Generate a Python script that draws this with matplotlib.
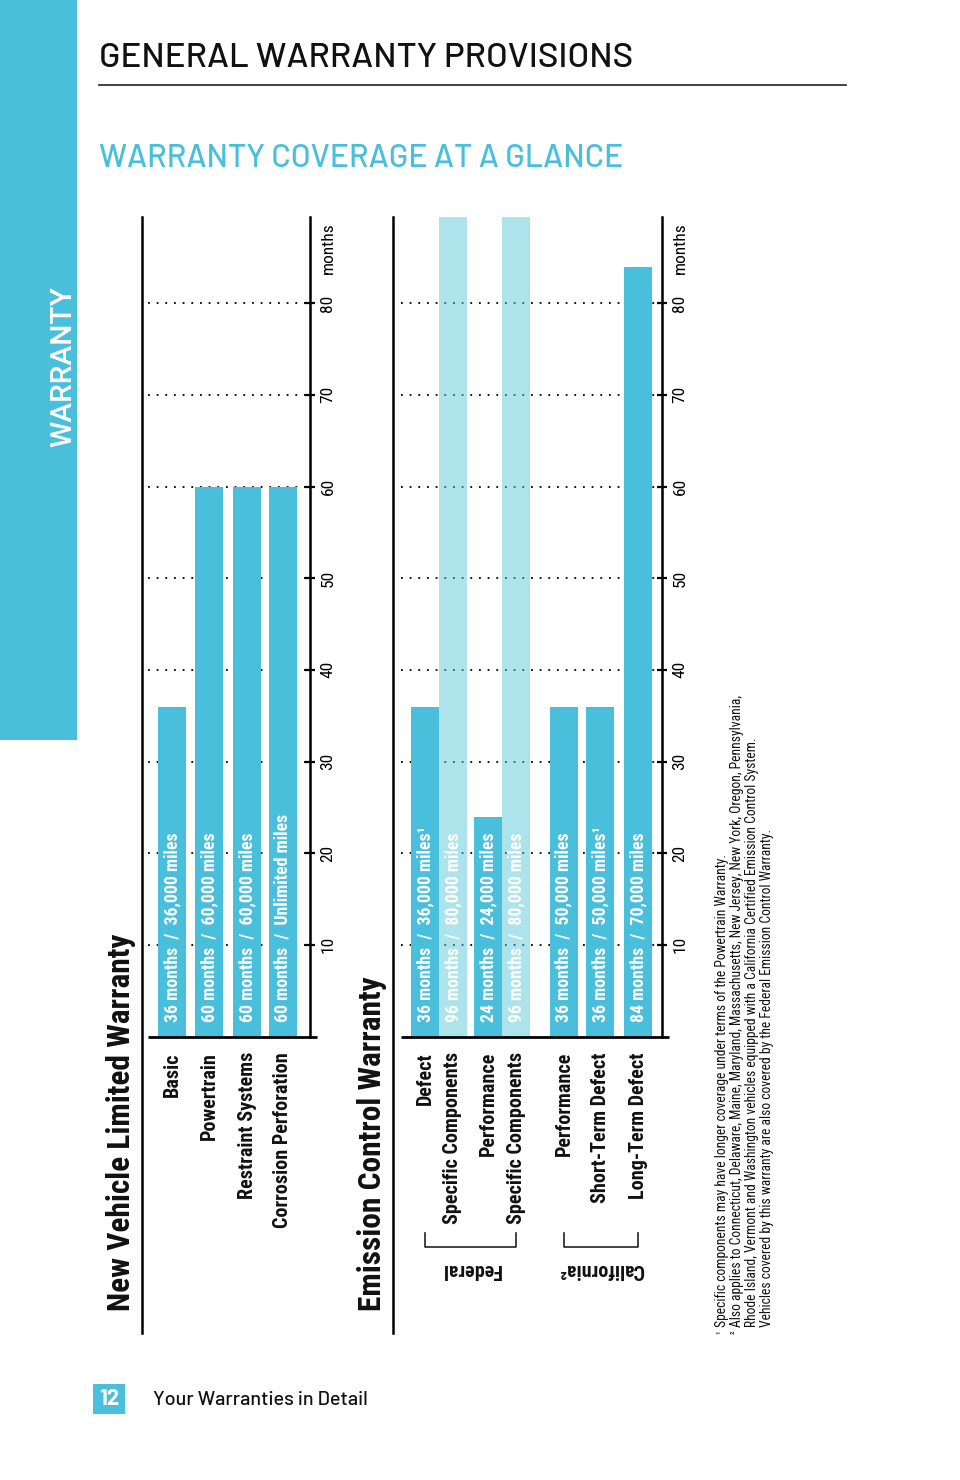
import matplotlib
matplotlib.use('Agg')
import matplotlib.pyplot as plt
from matplotlib.lines import Line2D
from matplotlib.patches import Rectangle
import matplotlib.transforms as mtransforms

W, H = 960, 1480
BLUE = '#49BFDC'
LIGHT = '#5CCAD9'
COND = ['Roboto Condensed', 'DejaVu Sans']
DIN = ['Barlow', 'DejaVu Sans']

# data
nv_labels = ['Basic', 'Powertrain', 'Restraint Systems', 'Corrosion Perforation']
nv_months = [36, 60, 60, 60]
nv_text = ['36 months  /  36,000 miles', '60 months  /  60,000 miles',
           '60 months  /  60,000 miles', '60 months  /  Unlimited miles']

ec_labels = ['Defect', 'Specific Components', 'Performance', 'Specific Components',
             'Performance', 'Short-Term Defect', 'Long-Term Defect']
ec_months = [36, 96, 24, 96, 36, 36, 84]
ec_text = ['36 months  /  36,000 miles¹', '96 months  /  80,000 miles',
           '24 months  /  24,000 miles', '96 months  /  80,000 miles',
           '36 months  /  50,000 miles', '36 months  /  50,000 miles¹',
           '84 months  /  70,000 miles']
ec_light = [False, True, False, True, False, False, False]
groups = [('Federal', 0, 3), ('California²', 4, 6)]

month_ticks = [10, 20, 30, 40, 50, 60, 70, 80]

notes = [('¹', 'Specific components may have longer coverage under terms of the Powertrain Warranty.'),
         ('²', 'Also applies to Connecticut, Delaware, Maine, Maryland, Massachusetts, New Jersey, New York, Oregon, Pennsylvania,'),
         ('', 'Rhode Island, Vermont and Washington vehicles equipped with a California Certified Emission Control System.'),
         ('', 'Vehicles covered by this warranty are also covered by the Federal Emission Control Warranty.')]

# layout (bar slots in bar widths)
nv_slots = [0, 1.32, 2.68, 3.96]
ec_slots = [0, 1, 2.25, 3.25, 4.96, 6.25, 7.61]

fig = plt.figure(figsize=(W / 100, H / 100), dpi=100)


def fx(x):
    return x / W


def fy(y):
    return 1 - y / H


# side band and page header
fig.add_artist(Rectangle((0, fy(740)), fx(77), 740 / H, transform=fig.transFigure,
                         color=BLUE, lw=0))
fig.text(fx(63), fy(367), 'WARRANTY', rotation=90, color='white', fontsize=21.5,
         family=['Roboto', 'DejaVu Sans'], fontweight=500,
         ha='center', va='center')
fig.text(fx(99), fy(67), 'GENERAL WARRANTY PROVISIONS', fontsize=25.1, family=DIN,
         fontweight=500, ha='left', va='baseline', color='#111111')
fig.add_artist(Line2D([fx(99), fx(846)], [fy(85), fy(85)], color='#333333', lw=1.3))
fig.text(fx(99), fy(167), 'WARRANTY COVERAGE AT A GLANCE', fontsize=23, family=DIN,
         fontweight=500, ha='left', va='baseline', color=BLUE)

# footer
fig.add_artist(Rectangle((fx(93), fy(1414)), fx(32), 30 / H, transform=fig.transFigure,
                         color=BLUE, lw=0))
fig.text(fx(109), fy(1399), '12', color='white', fontsize=16, fontweight='bold',
         family=DIN, ha='center', va='center')
fig.text(fx(153), fy(1400), 'Your Warranties in Detail', fontsize=14.3, family=DIN,
         fontweight=500, ha='left', va='center', color='#111111')


def chart(x0, x1, slots, months, texts, labels, light, title, title_x, rule_x):
    ax = fig.add_axes([fx(x0), fy(1036.5), fx(x1 - x0), (1036.5 - 217) / H])
    ax.set_xlim(slots[0] - 24 / 28, slots[0] - 24 / 28 + (x1 - x0) / 28)
    ax.set_ylim(0, 89.4)
    for i, (s, m, t) in enumerate(zip(slots, months, texts)):
        if light[i]:
            ax.bar(s, m, width=1, color=LIGHT, alpha=0.5, zorder=3, lw=0)
        else:
            ax.bar(s, m, width=1, color=BLUE, zorder=3, lw=0)
        ax.text(s, 1.6, t, rotation=90, ha='center', va='bottom', color='white',
                fontsize=12.8, fontweight='bold', family=COND, zorder=4)
        ax.text(s, -1.7, labels[i], rotation=90, ha='center', va='top', color='#111111',
                fontsize=14.5, fontweight='bold', family=COND, clip_on=False)
    for sp in ['left', 'top', 'bottom']:
        ax.spines[sp].set_visible(False)
    ax.spines['right'].set_linewidth(1.8)
    ax.set_xticks([])
    ax.yaxis.tick_right()
    ax.set_yticks(month_ticks)
    ax.set_yticklabels([str(v) for v in month_ticks], rotation=90, family=COND,
                       fontsize=12.5, va='center')
    ax.tick_params(axis='y', direction='inout', length=7, width=1.6, pad=4)
    ax.yaxis.grid(True, linestyle=(0, (1, 3.8)), color='black', lw=1.3)
    ax.set_axisbelow(True)
    trans = mtransforms.blended_transform_factory(ax.transAxes, ax.transData)
    ax.plot([0, 1 + 7 / (x1 - x0)], [0, 0], color='black', lw=2, transform=trans,
            clip_on=False, zorder=5, solid_capstyle='butt')
    ax.text(1 + 18.5 / (x1 - x0), 86, 'months', rotation=90, ha='center', va='center',
            transform=trans, family=COND, fontsize=12.5)
    fig.add_artist(Line2D([fx(rule_x), fx(rule_x)], [fy(217), fy(1333)], color='black', lw=1.8))
    fig.text(fx(title_x), fy(1311), title, rotation=90, ha='center', va='bottom',
             fontsize=22.6, fontweight='bold', family=COND, color='#111111')
    return ax


chart(148, 310, nv_slots, nv_months, nv_text, nv_labels, [False] * 4,
      'New Vehicle Limited Warranty', 121, 142)
ax2 = chart(401, 662, ec_slots, ec_months, ec_text, ec_labels, ec_light,
            'Emission Control Warranty', 372, 392.5)

# group brackets
for name, a, b in groups:
    xa = ax2.transData.transform((ec_slots[a], 0))[0]
    xb = ax2.transData.transform((ec_slots[b], 0))[0]
    xa, xb = xa / W, xb / W
    fig.add_artist(Line2D([xa, xa, xb, xb], [fy(1233), fy(1247), fy(1247), fy(1233)],
                          color='#222222', lw=1.2))
    fig.text((xa + xb) / 2, fy(1270), name, rotation=180, ha='center', va='center',
             fontsize=14.5, fontweight='bold', family=COND, color='#111111')

# footnotes
for i, (mark, line) in enumerate(notes):
    x = fx(722 + 15 * i)
    if mark:
        fig.text(x - fx(2), fy(1331), mark, rotation=90, ha='center', va='top',
                 fontsize=7.5, family=COND, color='#111111')
    fig.text(x, fy(1327), line, rotation=90, ha='center', va='bottom',
             fontsize=9.8, family=COND, color='#111111')

fig.savefig('out.png', dpi=100, facecolor='white')
